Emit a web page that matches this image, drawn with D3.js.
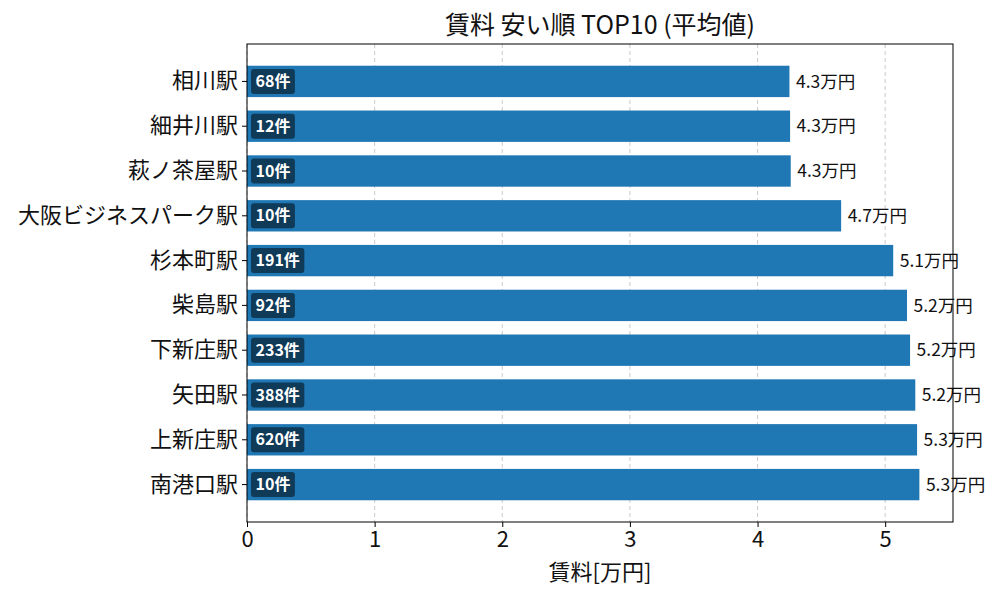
<!DOCTYPE html>
<html lang="ja">
<head>
  <meta charset="UTF-8">
  <title>賃料 安い順 TOP10</title>
  <script src="https://d3js.org/d3.v7.min.js"></script>
  <style>
    * { margin: 0; padding: 0; box-sizing: border-box; }
    body { background: #fff; font-family: "Noto Sans CJK JP", "Noto Sans", sans-serif; }
  </style>
</head>
<body>
  <div id="chart"></div>
  <script>
    // データ
    const stations = ["相川駅", "細井川駅", "萩ノ茶屋駅", "大阪ビジネスパーク駅", "杉本町駅",
                      "柴島駅", "下新庄駅", "矢田駅", "上新庄駅", "南港口駅"];
    const rents = [4.25, 4.255, 4.26, 4.655, 5.063, 5.171, 5.195, 5.236, 5.25, 5.268];
    const counts = [68, 12, 10, 10, 191, 92, 233, 388, 620, 10];
    const xTicks = [0, 1, 2, 3, 4, 5];

    const data = stations.map((s, i) => ({ station: s, rent: rents[i], count: counts[i] }));

    const W = 1000, H = 600;
    const margin = { top: 44, right: 47, bottom: 78, left: 247 };
    const width = W - margin.left - margin.right,
          height = H - margin.top - margin.bottom;

    const svg = d3.select("#chart").append("svg")
      .attr("width", W).attr("height", H);
    const g = svg.append("g")
      .attr("transform", `translate(${margin.left},${margin.top})`);

    const x = d3.scaleLinear()
      .domain([0, d3.max(rents) * 1.05])
      .range([0, width]);

    const y = d3.scaleBand()
      .domain(stations)
      .range([0, height])
      .paddingInner(0.3)
      .paddingOuter(0.485);

    // グリッド
    g.append("g")
      .selectAll("line")
      .data(xTicks)
      .enter().append("line")
      .attr("x1", d => x(d)).attr("x2", d => x(d))
      .attr("y1", 0).attr("y2", height)
      .attr("stroke", "#b0b0b0")
      .attr("stroke-opacity", 0.75)
      .attr("stroke-dasharray", "4,3")
      .attr("stroke-width", 0.9);

    // バー
    g.selectAll(".bar")
      .data(data)
      .enter().append("rect")
      .attr("class", "bar")
      .attr("x", x(0))
      .attr("y", d => y(d.station))
      .attr("width", d => x(d.rent) - x(0))
      .attr("height", y.bandwidth())
      .attr("fill", "#1f77b4");

    // 値ラベル
    const fmt = d3.format(".1f");
    g.selectAll(".val")
      .data(data)
      .enter().append("text")
      .attr("x", d => x(d.rent) + 6.5)
      .attr("y", d => y(d.station) + y.bandwidth() / 2)
      .attr("dy", "0.35em")
      .style("font-size", "17.5px")
      .style("fill", "#111")
      .text(d => `${fmt(d.rent)}万円`);

    // 件数バッジ
    const badge = g.selectAll(".badge")
      .data(data)
      .enter().append("g")
      .attr("transform", d => `translate(${x(0) + 4},${y(d.station) + y.bandwidth() / 2})`);

    badge.append("text")
      .attr("x", 4.5)
      .attr("dy", "0.35em")
      .style("font-size", "16px")
      .style("font-weight", "bold")
      .style("fill", "#fff")
      .text(d => `${d.count}件`);

    badge.each(function() {
      const b = d3.select(this).select("text").node().getBBox();
      d3.select(this).insert("rect", "text")
        .attr("x", 0)
        .attr("y", -12.5)
        .attr("width", b.width + 9)
        .attr("height", 25)
        .attr("rx", 3)
        .attr("fill", "#0f3a58");
    });

    // 軸
    const yAxis = g.append("g")
      .call(d3.axisLeft(y).tickSize(5).tickPadding(4));
    yAxis.selectAll("text")
      .style("font-size", "22px")
      .style("font-family", "'Noto Sans CJK JP', sans-serif")
      .attr("fill", "#111");

    const xAxis = g.append("g")
      .attr("transform", `translate(0,${height})`)
      .call(d3.axisBottom(x).tickValues(xTicks).tickFormat(d3.format("d")).tickSize(5).tickPadding(4));
    xAxis.selectAll("text")
      .style("font-size", "22px")
      .style("font-family", "'Noto Sans CJK JP', sans-serif")
      .attr("fill", "#111");

    g.selectAll(".domain").remove();
    g.selectAll(".tick line").attr("stroke", "#000").attr("stroke-width", 1);

    // 枠
    g.append("rect")
      .attr("x", 0).attr("y", 0)
      .attr("width", width).attr("height", height)
      .attr("fill", "none")
      .attr("stroke", "#000")
      .attr("stroke-width", 1);

    // タイトル・軸ラベル
    svg.append("text")
      .attr("x", margin.left + width / 2)
      .attr("y", 34)
      .attr("text-anchor", "middle")
      .style("font-size", "25px")
      .style("fill", "#111")
      .text("賃料 安い順 TOP10 (平均値)");

    svg.append("text")
      .attr("x", margin.left + width / 2)
      .attr("y", 580)
      .attr("text-anchor", "middle")
      .style("font-size", "22px")
      .style("fill", "#111")
      .text("賃料[万円]");
  </script>
</body>
</html>
